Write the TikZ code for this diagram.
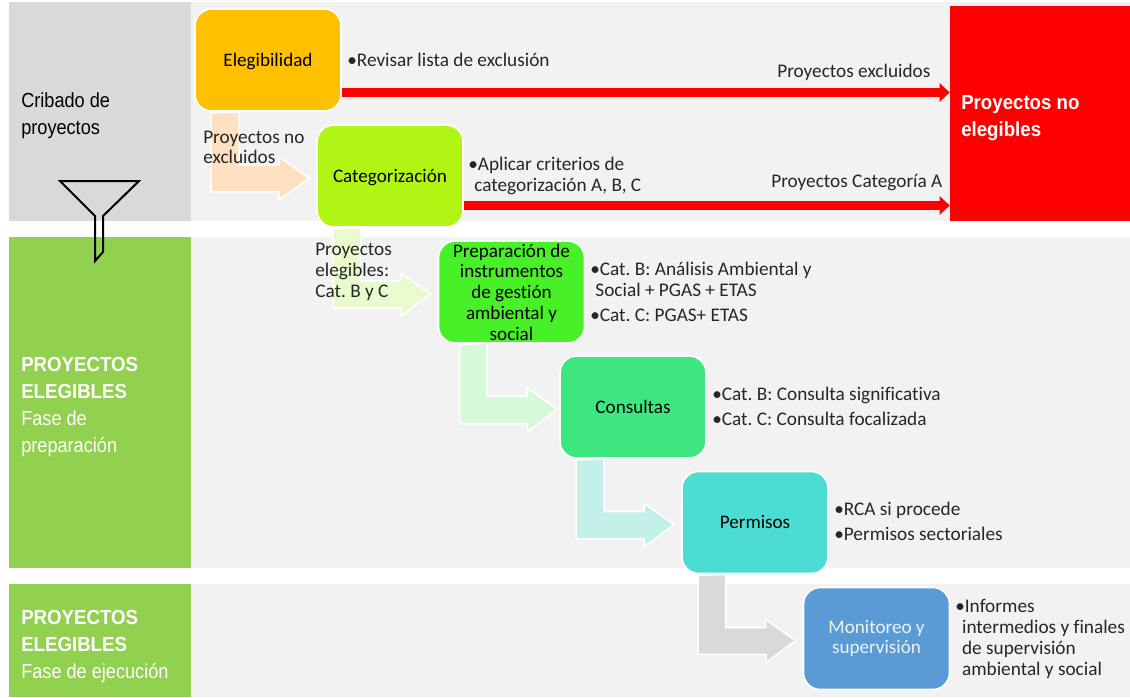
\documentclass[tikz,border=0pt]{standalone}
\usepackage{fontspec}
\setmainfont[Ligatures=NoCommon]{Carlito}
\newfontfamily\ladofont[FakeStretch=0.89,BoldFeatures={FakeStretch=0.915}]{Liberation Sans}
\usetikzlibrary{calc,arrows.meta}

\definecolor{banda}{HTML}{F2F2F2}
\definecolor{gris}{HTML}{D9D9D9}
\definecolor{verdelado}{HTML}{92D050}
\definecolor{rojo}{HTML}{FF0000}
\definecolor{naranja}{HTML}{FFC000}
\definecolor{lima}{HTML}{B0F514}
\definecolor{verde}{HTML}{47F027}
\definecolor{menta}{HTML}{3DE67F}
\definecolor{turquesa}{HTML}{4BDDD2}
\definecolor{azul}{HTML}{5B9BD5}
\definecolor{durazno}{HTML}{FFE0C0}
\definecolor{limaclaro}{HTML}{E9FBCE}
\definecolor{verdeclaro}{HTML}{D6F9D8}
\definecolor{aguaclaro}{HTML}{C3F1EA}

\tikzset{
 etapa/.style={draw=white,line width=0.04cm,rounded corners=0.42cm,minimum width=3.65cm,minimum height=2.55cm,inner sep=0pt,align=center,font=\fontsize{13.6}{14.75}\selectfont},
 texto/.style={inner sep=0pt,align=left,anchor=west,font=\fontsize{13.7}{14.75}\selectfont,text=black!85},
 lado/.style={inner sep=0pt,align=left,anchor=west,font=\ladofont\fontsize{14.5}{19.4}\selectfont},
 salida/.style={rojo,line width=0.225cm,-{Triangle[length=0.25cm,width=0.45cm]}},
 flecha/.style={draw=white,line width=0.04cm}
}

% texto de una sola linea dentro de una etapa
\newcommand{\centrado}{\rule[-4.4pt]{0pt}{17.5pt}}

% flecha acodada: desplazamiento, etapa de origen, etapa de destino, color
\newcommand{\codo}[4][0]{
 \draw[flecha,fill=#4] ($(#2.south west)+(17+#1,1)$) -- ++(0,79) -- ++(68,0) -- ++(0,8)
  -- ($(#3.west)+(-7+#1,2)$) -- ++(-30,-21) -- ++(0,8) -- ++(-40,0) -- ++(0,-53) -- cycle;
}

\begin{document}
\frenchspacing
\begin{tikzpicture}[x=0.025cm,y=-0.025cm]
 \useasboundingbox (0,0) rectangle (1130,697);

 % bandas
 \fill[banda] (191,2) rectangle (1130,221);
 \fill[banda] (191,237) rectangle (1130,568);
 \fill[banda] (191,584) rectangle (1130,697);
 \fill[gris] (9,2) rectangle (191,221);
 \fill[verdelado] (9,237) rectangle (191,568);
 \fill[verdelado] (9,584) rectangle (191,697);
 \node[fill=rojo,inner sep=0pt,minimum width=4.5cm,minimum height=5.375cm] (noelegibles) at (1040,113.5) {};

 % embudo
 \draw[line width=0.05cm] (60,181) -- (139,181) -- (103,216) -- (103,252) -- (95,261) -- (95,216) -- cycle;

 % etapas
 \node[etapa,fill=naranja] (elegibilidad) at (268,60) {Elegibilidad\centrado};
 \node[etapa,fill=lima] (categorizacion) at (390,176) {Categorización\centrado};
 \node[etapa,fill=verde] (preparacion) at (511.5,292) {Preparación de\\instrumentos\\de gestión\\ambiental y\\social};
 \node[etapa,fill=menta] (consultas) at (633,407) {Consultas\centrado};
 \node[etapa,fill=turquesa] (permisos) at (755,522.5) {Permisos\centrado};
 \node[etapa,fill=azul,text=white!88!azul] (monitoreo) at (876.5,638.5) {Monitoreo y\\supervisión};

 % conexiones
 \codo{elegibilidad}{categorizacion}{durazno}
 \codo{categorizacion}{preparacion}{limaclaro}
 \codo[5]{preparacion}{consultas}{verdeclaro}
 \codo{consultas}{permisos}{aguaclaro}
 \codo{permisos}{monitoreo}{gris}
 \draw[salida] ($(elegibilidad.east)+(0,32.5)$) -- ($(elegibilidad.east -| noelegibles.west)+(0,32.5)$);
 \draw[salida] ($(categorizacion.east)+(0,29.5)$) -- ($(categorizacion.east -| noelegibles.west)+(0,29.5)$);

 % textos de la izquierda
 \node[lado] (cribado) at (21,115.5) {Cribado de\\proyectos};
 \node[lado,text=white] (preparacionlado) at (21,407) {\textbf{PROYECTOS}\\\textbf{ELEGIBLES}\\Fase de\\preparación};
 \node[lado,text=white] (ejecucionlado) at (21,646.5) {\textbf{PROYECTOS}\\\textbf{ELEGIBLES}\\Fase de ejecución};
 \node[lado,text=white] (noelegibleslado) at (961,118) {\textbf{Proyectos no}\\\textbf{elegibles}};

 % textos de las flechas
 \node[texto] (excluidos) at (777,72) {Proyectos excluidos};
 \node[texto] (categoriaa) at (771,183) {Proyectos Categoría A};
 \node[texto] (noexcluidos) at (203,147.5) {Proyectos no\\excluidos};
 \node[texto] (elegiblesbc) at (315,272) {Proyectos\\elegibles:\\Cat. B y C};

 % listas
 \node[texto] (listaeleg) at (347,60) {\textbullet Revisar lista de exclusión};
 \node[texto] (listacat) at (468,176) {\textbullet Aplicar criterios de\\\hspace*{0.15cm}categorización A, B, C};
 \node[texto] (listaprep) at (590,292) {\textbullet Cat. B: Análisis Ambiental y\\\hspace*{0.13cm}Social + PGAS + ETAS\\[0.1cm]\textbullet Cat. C: PGAS+ ETAS};
 \node[texto] (listacons) at (712,406.5) {\textbullet Cat. B: Consulta significativa\\[0.1cm]\textbullet Cat. C: Consulta focalizada};
 \node[texto] (listaperm) at (834,521.5) {\textbullet RCA si procede\\[0.1cm]\textbullet Permisos sectoriales};
 \node[texto] (listamon) at (955,639) {\textbullet Informes\\\hspace*{0.17cm}intermedios y finales\\\hspace*{0.17cm}de supervisión\\\hspace*{0.17cm}ambiental y social};
\end{tikzpicture}
\end{document}
